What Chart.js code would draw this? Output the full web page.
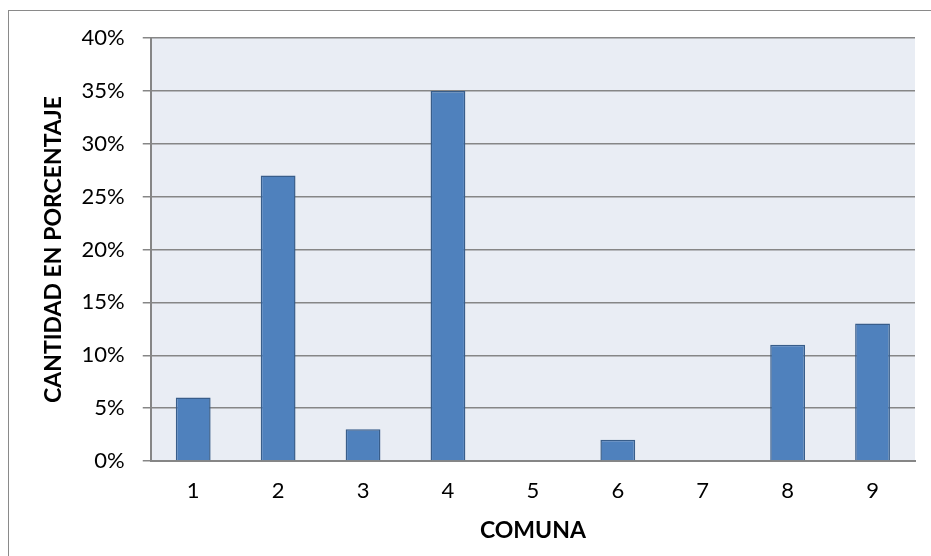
<!DOCTYPE html>
<html>
<head>
<meta charset="utf-8">
<script src="https://cdn.jsdelivr.net/npm/chart.js@4"></script>
<style>
  html, body { margin: 0; padding: 0; background: #fff; }
  #wrap { position: relative; width: 931px; height: 556px; }
  #frame {
    position: absolute; left: 8px; top: 10px; width: 940px; height: 560px;
    border: 1px solid #8a8a8a; box-sizing: border-box;
  }
  canvas { position: absolute; left: 0; top: 0; }
</style>
</head>
<body>
<div id="wrap">
  <div id="frame"></div>
  <canvas id="chart" width="931" height="556"></canvas>
</div>
<script>
const comunas = ['1', '2', '3', '4', '5', '6', '7', '8', '9'];
const porcentajes = [6, 27, 3, 35, 0, 2, 0, 11, 13];
const yMax = 40;
const yStep = 5;

// Plot area fill like the original chart
const plotBg = {
  id: 'plotBg',
  beforeDraw(chart) {
    const { ctx, chartArea: a } = chart;
    ctx.save();
    ctx.fillStyle = '#E9EDF4';
    ctx.fillRect(a.left, a.top, a.right - a.left, a.bottom - a.top);
    ctx.restore();
  }
};

Chart.defaults.font.family = "Lato, 'Open Sans', sans-serif";
Chart.defaults.color = '#000';

new Chart(document.getElementById('chart'), {
  type: 'bar',
  data: {
    labels: comunas,
    datasets: [{
      data: porcentajes,
      backgroundColor: '#4F81BD',
      borderColor: '#385D8A',
      borderWidth: 1.5,
      barPercentage: 0.41,
      categoryPercentage: 1
    }]
  },
  options: {
    responsive: false,
    animation: false,
    layout: { padding: { left: 40, top: 38, right: 16, bottom: 12 } },
    plugins: { legend: { display: false }, tooltip: { enabled: false } },
    scales: {
      x: {
        grid: { display: false, drawTicks: false },
        border: { color: '#868686', width: 2 },
        ticks: { font: { size: 22 }, padding: 17 },
        title: {
          display: true, text: 'COMUNA',
          font: { size: 23, weight: 'bold' }, padding: { top: -5, bottom: 0 }
        }
      },
      y: {
        min: 0, max: yMax,
        grid: { color: '#868686', lineWidth: 1.5, tickLength: 8 },
        border: { color: '#868686', width: 2 },
        ticks: {
          stepSize: yStep, font: { size: 22 }, padding: 18,
          callback: v => v + '%'
        },
        title: {
          display: true, text: 'CANTIDAD EN PORCENTAJE',
          font: { size: 23, weight: 'bold' }, padding: { top: 0, bottom: -4 }
        }
      }
    }
  },
  plugins: [plotBg]
});
</script>
</body>
</html>
